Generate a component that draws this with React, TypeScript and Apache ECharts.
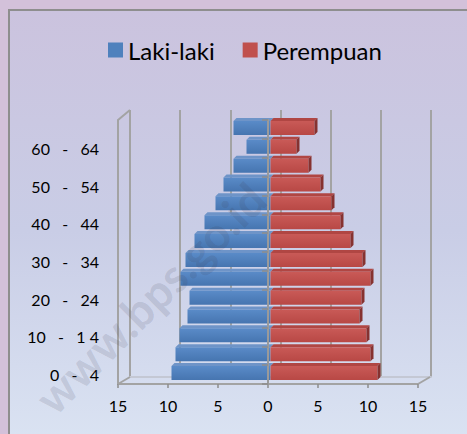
import React, { useEffect, useRef } from "react";
import * as echarts from "echarts";

const categories = [
  "0 - 4", "5 - 9", "10 - 1 4", "15 - 19", "20 - 24", "25 - 29", "30 - 34",
  "35 - 39", "40 - 44", "45 - 49", "50 - 54", "55 - 59", "60 - 64", "65+",
];
const lakiLaki = [9.9, 9.5, 9.1, 8.3, 8.1, 9.0, 8.5, 7.6, 6.6, 5.5, 4.7, 3.7, 2.4, 3.7];
const perempuan = [10.7, 10.0, 9.6, 8.9, 9.1, 10.0, 9.2, 8.0, 7.0, 6.1, 5.0, 3.8, 2.6, 4.4];
const xMin = -15;
const xMax = 15;
const xStep = 5;

const FONT = "Lato, 'Noto Sans', sans-serif";
const GRAY = "#a3a3a3";

const DX = 2.5, DY = -1.5, H = 14, D = 3;

function bar3D(front: any, top: string, side: string) {
  return (params: any, api: any) => {
    const v = api.value(0);
    const c = api.value(1);
    const a = api.coord([0, c]);
    const b = api.coord([v, c]);
    const xl = Math.min(a[0], b[0]) + DX;
    const xr = Math.max(a[0], b[0]) + DX;
    const yc = a[1] + DY;
    const y0 = yc - H / 2;
    const y1 = yc + H / 2;
    const children: any[] = [
      { type: "polygon", shape: { points: [[xl, y0], [xl + D, y0 - D], [xr + D, y0 - D], [xr, y0]] }, style: { fill: top } },
      { type: "rect", shape: { x: xl, y: y0, width: xr - xl, height: H }, style: { fill: front } },
    ];
    if (v > 0) {
      children.push({ type: "polygon", shape: { points: [[xr, y0], [xr + D, y0 - D], [xr + D, y1 - D], [xr, y1]] }, style: { fill: side } });
    }
    return { type: "group", children };
  };
}

function grad(c1: string, c2: string) {
  return new echarts.graphic.LinearGradient(0, 0, 0, 1, [
    { offset: 0, color: c1 },
    { offset: 1, color: c2 },
  ]);
}

export default function App() {
  const ref = useRef<HTMLDivElement>(null);
  useEffect(() => {
    const chart = echarts.init(ref.current!, null, { renderer: "svg" });
    chart.setOption({
      animation: false,
      legend: {
        data: ["Laki-laki", "Perempuan"],
        left: 103,
        top: 33,
        icon: "rect",
        itemWidth: 15,
        itemHeight: 15,
        itemGap: 28,
        textStyle: { fontFamily: FONT, fontSize: 24, color: "#000" },
      },
      grid: [
        { left: 118, right: 49, top: 120, bottom: 50 },
        { left: 130, right: 36, top: 110, bottom: 57 },
      ],
      xAxis: [
        {
          gridIndex: 0, type: "value", min: xMin, max: xMax, interval: xStep,
          axisLine: { show: true, onZero: false, lineStyle: { color: GRAY, width: 2 } },
          axisTick: { show: true, length: 4, lineStyle: { color: "#8c8c8c", width: 1.5 } },
          splitLine: { show: false },
          axisLabel: {
            margin: 13, fontFamily: FONT, fontSize: 16, color: "#000",
            formatter: (v: number) => String(Math.abs(v)),
          },
        },
        {
          gridIndex: 1, type: "value", min: xMin, max: xMax, interval: xStep,
          axisLine: { show: true, onZero: false, lineStyle: { color: "#c4c8d4", width: 2 } },
          axisTick: { show: false },
          axisLabel: { show: false },
          splitLine: { show: true, lineStyle: { color: GRAY, width: 2 } },
        },
      ],
      yAxis: [
        {
          gridIndex: 0, type: "category", data: categories,
          axisLine: { show: true, onZero: false, lineStyle: { color: GRAY, width: 2 } },
          axisTick: { show: false },
          splitLine: { show: false },
          axisLabel: {
            interval: 1, margin: 19, fontFamily: FONT, fontSize: 16, color: "#000",
            formatter: (v: string) => v.replace(" - ", "\u00a0\u00a0\u00a0-\u00a0\u00a0\u00a0"),
          },
        },
        {
          gridIndex: 0, type: "category", data: categories, position: "left",
          z: 10,
          axisLine: { show: true, onZero: true, lineStyle: { color: "#9a9a9a", width: 2 } },
          axisTick: { show: true, length: 6, lineStyle: { color: "#8c8c8c", width: 1.5 } },
          axisLabel: { show: false },
          splitLine: { show: false },
        },
        {
          gridIndex: 1, type: "category", data: categories,
          axisLine: { show: false }, axisTick: { show: false }, axisLabel: { show: false },
          splitLine: { show: false },
        },
      ],
      graphic: [
        {
          type: "polyline", shape: { points: [[118, 120], [130, 110]] },
          style: { stroke: GRAY, lineWidth: 2, fill: null }, z: 1,
        },
        {
          type: "polyline", shape: { points: [[118, 384], [130, 377]] },
          style: { stroke: GRAY, lineWidth: 2, fill: null }, z: 1,
        },
        {
          type: "polyline", shape: { points: [[418, 384], [430, 377]] },
          style: { stroke: GRAY, lineWidth: 2, fill: null }, z: 1,
        },
        {
          type: "text", x: 150, y: 298, rotation: Math.PI / 4, z: 100,
          style: {
            text: "www.bps.go.id", font: "bold 46px " + FONT,
            fill: "rgba(60,60,80,0.15)", align: "center", verticalAlign: "middle",
          },
        },
      ],
      series: [
        {
          name: "Laki-laki", type: "custom", xAxisIndex: 0, yAxisIndex: 0,
          itemStyle: { color: "#4f81bd" },
          renderItem: bar3D(grad("#5a8bc8", "#4675b0"), "#6e94c8", "#3a5f8f"),
          encode: { x: 0, y: 1 },
          data: lakiLaki.map((v, i) => [-v, i]),
          z: 3,
        },
        {
          name: "Perempuan", type: "custom", xAxisIndex: 0, yAxisIndex: 0,
          itemStyle: { color: "#c0504d" },
          renderItem: bar3D(grad("#c95a57", "#b84845"), "#b04643", "#863230"),
          encode: { x: 0, y: 1 },
          data: perempuan.map((v, i) => [v, i]),
          z: 4,
        },
      ],
    });
    return () => chart.dispose();
  }, []);
  return (
    <div style={{ position: "absolute", left: 0, top: 0, width: 467, height: 434, background: "#d3c1da", overflow: "hidden" }}>
      <div
        style={{
          position: "absolute", left: 8, top: 9, width: 470, height: 440,
          borderLeft: "2px solid #8e8e8e", borderTop: "2px solid #8e8e8e",
          background: "linear-gradient(to bottom, #cbc3de 0%, #c9cde6 50%, #dbe4f3 100%)",
        }}
      />
      <div ref={ref} style={{ position: "absolute", left: 0, top: 0, width: 467, height: 434 }} />
    </div>
  );
}
